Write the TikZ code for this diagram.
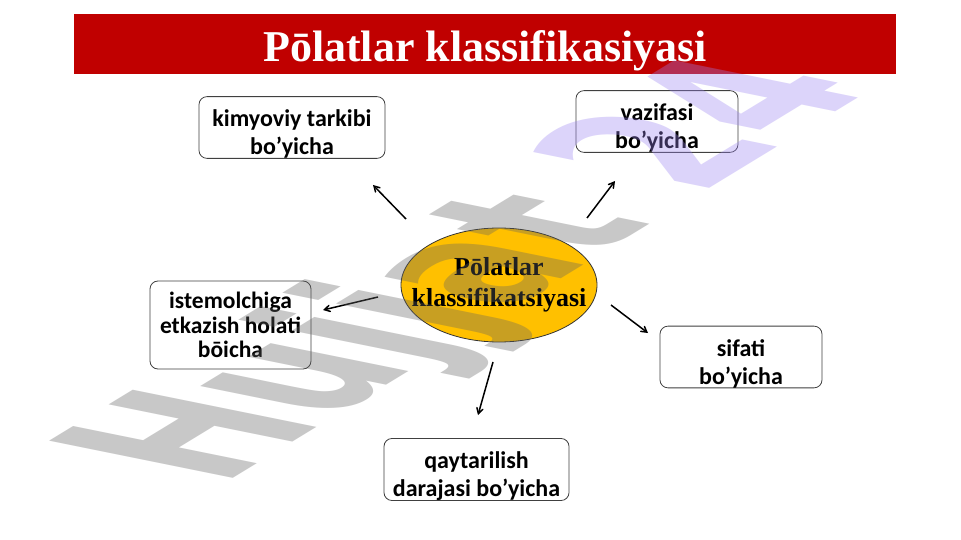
\documentclass[tikz,border=0pt]{standalone}
\usepackage{fontspec}
\usepackage{xcolor}
\usepackage{tikz}
\usetikzlibrary{shapes.geometric, arrows, positioning}
\setmainfont{Liberation Serif}
\newfontfamily\boxfont{Carlito}
\newfontfamily\wmfont{DejaVu Sans}

\definecolor{barred}{HTML}{C00000}
\definecolor{hubgold}{HTML}{FFC000}
\definecolor{wmgrey}{RGB}{98,98,98}
\definecolor{wmlav}{RGB}{155,132,241}

\begin{document}
\begin{tikzpicture}[
        x=1pt, y=-1pt,
        bar/.style={rectangle, fill=barred, minimum width=822pt, minimum height=60pt, inner sep=0pt},
        title/.style={text=white, font=\bfseries\fontsize{44}{50}\selectfont, inner sep=0pt},
        box/.style={rectangle, draw=black!75, line width=0.8pt, rounded corners=8pt, fill=white, align=center, inner sep=0pt,
            font=\boxfont\bfseries\fontsize{24}{28}\selectfont},
        twoline/.style={text height=58pt},
        hub/.style={ellipse, draw=black!80, line width=0.8pt, fill=hubgold, minimum width=196pt, minimum height=114pt,
            inner xsep=-19pt, inner ysep=0pt, align=center, font=\bfseries\fontsize{26}{31}\selectfont},
        line/.style={draw, line width=1.5pt, ->, >=angle 60}
    ]
        \fill[white] (0,0) rectangle (961,540);
        \useasboundingbox (0,0) rectangle (961,540);

        \node [bar] (bar) at (485,44) {};
        \node [title, anchor=base] (title) at (485,62) {Pōlatlar klassifikasiyasi};

        \node [hub] (hub) at (499,285) {Pōlatlar\\klassifikatsiyasi};

        \node [box, twoline, minimum width=186pt, minimum height=61pt] (chem) at (292,127.5) {kimyoviy tarkibi\\bo’yicha};
        \node [box, twoline, minimum width=162pt, minimum height=61pt] (use) at (657,121.5) {vazifasi\\bo’yicha};
        \node [box, minimum width=161pt, minimum height=88pt,
            font=\boxfont\bfseries\fontsize{23.5}{24.5}\selectfont] (supply) at (230.5,325) {istemolchiga\\etkazish holati\\bōicha};
        \node [box, twoline, minimum width=162pt, minimum height=60pt] (quality) at (741,357) {sifati\\bo’yicha};
        \node [box, twoline, minimum width=185pt, minimum height=61pt] (return) at (476.5,469.5) {qaytarilish\\darajasi bo’yicha};

        % arrow ends
        \coordinate (chemA) at (406,219);  \coordinate (chemB) at (373,185);
        \coordinate (useA) at (587,218);   \coordinate (useB) at (615,181);
        \coordinate (supA) at (378,297);   \coordinate (supB) at (323,310);
        \coordinate (qualA) at (611,305);  \coordinate (qualB) at (648,333);
        \coordinate (retA) at (493,362);   \coordinate (retB) at (478,415);

        \path [line] (chemA) -- (chemB);
        \path [line] (useA) -- (useB);
        \path [line] (supA) -- (supB);
        \path [line] (qualA) -- (qualB);
        \path [line] (retA) -- (retB);

        % watermark
        \begin{scope}[cm={1.28,0.78,-2.52,0.51,(221,486)}]
            \node [transform shape, anchor=base west, inner sep=0pt, text opacity=0.35,
                font=\wmfont\bfseries\fontsize{100}{100}\selectfont] (mark) at (0,0)
                {\textcolor{wmgrey}{Hujjat} \textcolor{wmlav}{24}};
        \end{scope}
    \end{tikzpicture}
\end{document}
